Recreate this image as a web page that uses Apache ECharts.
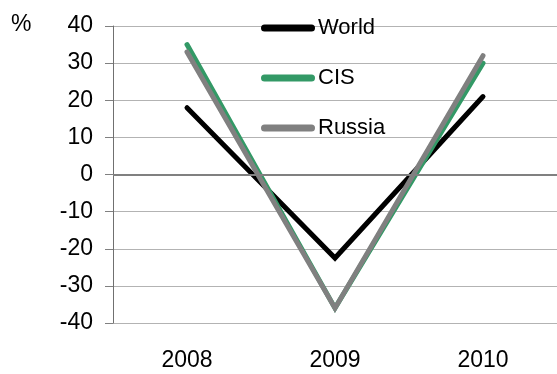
<!DOCTYPE html>
<html>
<head>
<meta charset="utf-8">
<script src="https://cdn.jsdelivr.net/npm/echarts@6/dist/echarts.min.js"></script>
<style>
  html, body { margin: 0; padding: 0; background: #fff; }
  #chart { width: 557px; height: 374px; }
</style>
</head>
<body>
<div id="chart"></div>
<script>
// Annual change, %
const years = ['2008', '2009', '2010'];
const world = [18, -22.5, 21];
const cis = [35, -36, 30];
const russia = [33, -36, 32];

const yMin = -40, yMax = 40, yStep = 10;

const FONT = '"Liberation Sans", Arial, sans-serif';
const GRID_GREY = '#b3b3b3';

// lighter gridlines, with the zero line drawn darker by a mark line
const splitColors = [];
for (let v = yMin; v <= yMax; v += yStep) splitColors.push(v === 0 ? '#808080' : GRID_GREY);

// pill-shaped legend key (thick line with round ends)
const KEY_ICON = 'path://M3.5,0 L50.5,0 A3.5,3.5 0 0 1 50.5,7 L3.5,7 A3.5,3.5 0 0 1 3.5,0 Z';

const lineSeries = (name, data, color, width, extra) => Object.assign({
  name,
  type: 'line',
  data,
  symbol: 'none',
  smooth: false,
  lineStyle: { color, width, cap: 'round', join: 'miter' },
  itemStyle: { color },
  emphasis: { disabled: true },
  animation: false
}, extra || {});

const chart = echarts.init(document.getElementById('chart'), null, { renderer: 'canvas' });
chart.setOption({
  backgroundColor: '#fff',
  animation: false,
  title: {
    text: '%',
    left: 11,
    top: 13,
    padding: 0,
    textStyle: { fontFamily: FONT, fontSize: 23, fontWeight: 'normal', color: '#000' }
  },
  legend: {
    orient: 'vertical',
    left: 261,
    top: 17,
    padding: 0,
    itemWidth: 54,
    itemHeight: 7,
    itemGap: 28,
    icon: KEY_ICON,
    selectedMode: false,
    textStyle: { fontFamily: FONT, fontSize: 22, color: '#000', padding: [0, 0, 0, -2] },
    data: ['World', 'CIS', 'Russia']
  },
  grid: { left: 113, top: 26, width: 450, height: 297, containLabel: false },
  xAxis: {
    type: 'category',
    data: years,
    boundaryGap: true,
    axisLine: { show: false },
    axisTick: { show: false },
    splitLine: { show: false },
    axisLabel: { fontFamily: FONT, fontSize: 23, color: '#000', margin: 26 }
  },
  yAxis: {
    type: 'value',
    min: yMin,
    max: yMax,
    interval: yStep,
    axisLine: { show: true, lineStyle: { color: '#707070', width: 1 } },
    axisTick: { show: true, inside: false, length: 8, lineStyle: { color: '#808080' } },
    axisLabel: { fontFamily: FONT, fontSize: 23, color: '#000', margin: 20, padding: [3, 0, 0, 0] },
    splitLine: { show: true, lineStyle: { color: splitColors, width: 1 } }
  },
  series: [
    lineSeries('World', world, '#000000', 5, {
      markLine: {
        silent: true,
        symbol: 'none',
        label: { show: false },
        lineStyle: { color: '#808080', width: 2, type: 'solid' },
        data: [{ yAxis: 0 }],
        animation: false
      }
    }),
    lineSeries('CIS', cis, '#339966', 5),
    lineSeries('Russia', russia, '#808080', 5)
  ]
});
</script>
</body>
</html>
